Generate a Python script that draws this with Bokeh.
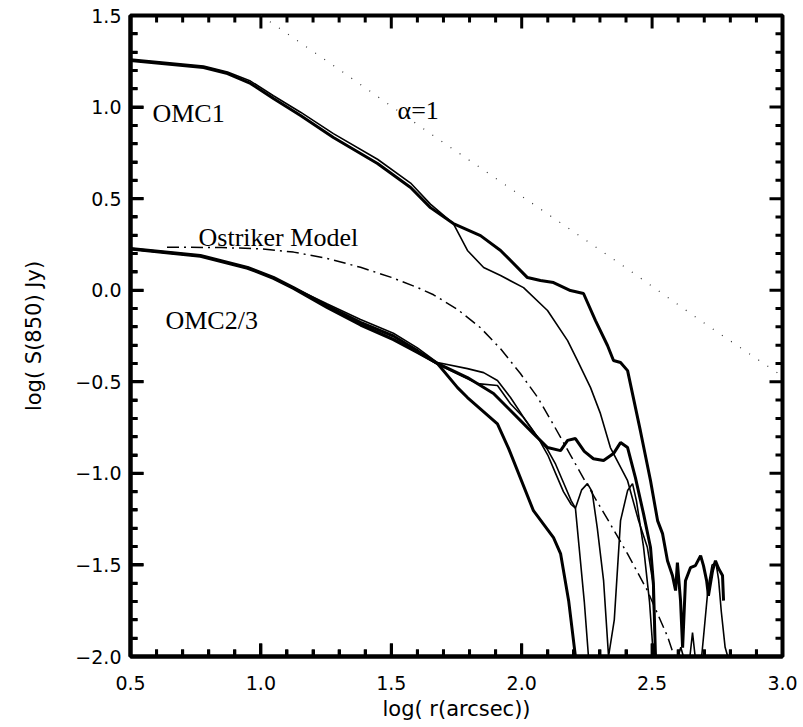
from bokeh.plotting import figure
from bokeh.models import FixedTicker, Label
from bokeh.embed import file_html
from bokeh.resources import INLINE

# ---------------- data ----------------
x_ticks = [0.5, 1.0, 1.5, 2.0, 2.5, 3.0]
x_tick_labels = ["0.5", "1.0", "1.5", "2.0", "2.5", "3.0"]
y_ticks = [-2.0, -1.5, -1.0, -0.5, 0.0, 0.5, 1.0, 1.5]
y_tick_labels = ["\u22122.0", "\u22121.5", "\u22121.0", "\u22120.5", "0.0", "0.5", "1.0", "1.5"]
x_minor = [round(0.5 + 0.1 * i, 2) for i in range(26)]
y_minor = [round(-2.0 + 0.1 * i, 2) for i in range(36)]
x_lo, x_hi = 0.5, 3.0
y_lo, y_hi = -2.0, 1.5

# OMC1 heavy profile
omc1_thick_x = [0.50, 0.78, 0.872, 0.96, 1.048, 1.152, 1.278, 1.447, 1.574, 1.65, 1.738,
                1.842, 1.919, 2.022, 2.072, 2.122, 2.187, 2.237, 2.283, 2.329, 2.352, 2.379,
                2.406, 2.455, 2.494, 2.521, 2.540, 2.559, 2.578, 2.590, 2.597, 2.609, 2.617,
                2.628, 2.647, 2.666, 2.686, 2.697, 2.709, 2.716, 2.732, 2.743, 2.755, 2.770, 2.774]
omc1_thick_y = [1.254, 1.216, 1.183, 1.129, 1.047, 0.954, 0.834, 0.692, 0.561, 0.451, 0.364,
                0.298, 0.217, 0.069, 0.053, 0.042, -0.002, -0.018, -0.166, -0.302, -0.384, -0.395,
                -0.439, -0.767, -1.040, -1.258, -1.329, -1.477, -1.558, -1.640, -1.487, -1.695, -1.952,
                -1.586, -1.515, -1.504, -1.449, -1.504, -1.586, -1.668, -1.531, -1.477, -1.520, -1.558, -1.695]

# OMC1 light profile
omc1_thin_x = [0.50, 0.78, 0.872, 0.96, 1.048, 1.152, 1.278, 1.447, 1.574, 1.65, 1.738,
               1.792, 1.854, 1.919, 2.007, 2.099, 2.176, 2.214, 2.264, 2.302, 2.340, 2.406,
               2.448, 2.482, 2.502, 2.513, 2.60, 2.61, 2.62, 2.645, 2.655, 2.665, 2.69,
               2.70, 2.715, 2.73, 2.745, 2.755, 2.765, 2.78, 2.79]
omc1_thin_y = [1.262, 1.224, 1.192, 1.142, 1.062, 0.972, 0.855, 0.715, 0.585, 0.470, 0.364,
               0.217, 0.124, 0.080, 0.014, -0.111, -0.275, -0.384, -0.532, -0.674, -0.859, -1.040,
               -1.258, -1.405, -1.586, -2.0, -2.0, -1.95, -2.0, -2.0, -1.87, -2.0, -2.0,
               -1.85, -1.62, -1.50, -1.49, -1.58, -1.75, -1.95, -2.0]

# OMC2/3 profiles
omc23_a_x = [0.50, 0.768, 0.949, 1.048, 1.125, 1.255, 1.382, 1.508, 1.60, 1.677, 1.754,
             1.792, 1.907, 1.950, 2.045, 2.122, 2.149, 2.180, 2.206]
omc23_a_y = [0.225, 0.185, 0.120, 0.065, 0.010, -0.095, -0.190, -0.270, -0.340, -0.400, -0.532,
             -0.586, -0.730, -0.865, -1.204, -1.351, -1.438, -1.695, -2.0]

omc23_b_x = [0.50, 0.768, 0.949, 1.048, 1.125, 1.255, 1.382, 1.508, 1.60, 1.677, 1.792,
             1.892, 1.957, 2.045, 2.099, 2.149, 2.176, 2.206, 2.240, 2.275, 2.314, 2.352,
             2.379, 2.406, 2.436, 2.467, 2.494, 2.505, 2.513]
omc23_b_y = [0.228, 0.190, 0.124, 0.070, 0.014, -0.085, -0.175, -0.250, -0.330, -0.400, -0.477,
             -0.564, -0.657, -0.783, -0.859, -0.876, -0.820, -0.810, -0.880, -0.920, -0.930, -0.892,
             -0.832, -0.859, -1.023, -1.220, -1.405, -1.600, -2.0]

omc23_c_x = [0.50, 0.768, 0.949, 1.048, 1.125, 1.255, 1.382, 1.508, 1.60, 1.677, 1.792,
             1.854, 1.907, 1.957, 2.010, 2.060, 2.099, 2.130, 2.160, 2.190, 2.206, 2.220,
             2.240, 2.256]
omc23_c_y = [0.226, 0.188, 0.123, 0.069, 0.013, -0.075, -0.160, -0.235, -0.315, -0.395, -0.428,
             -0.450, -0.493, -0.586, -0.700, -0.800, -0.870, -0.950, -1.050, -1.150, -1.190, -1.400,
             -1.700, -2.0]

omc23_d_x = [0.50, 0.768, 0.949, 1.048, 1.125, 1.255, 1.382, 1.508, 1.60, 1.677, 1.830,
             1.907, 1.957, 2.007, 2.060, 2.100, 2.130, 2.160, 2.190, 2.206, 2.230, 2.252,
             2.270, 2.290, 2.314, 2.333, 2.355, 2.379, 2.406, 2.425, 2.440, 2.467, 2.490, 2.505]
omc23_d_y = [0.224, 0.186, 0.121, 0.067, 0.011, -0.090, -0.185, -0.265, -0.340, -0.405, -0.510,
             -0.520, -0.620, -0.695, -0.800, -0.900, -1.000, -1.100, -1.170, -1.190, -1.090, -1.056,
             -1.100, -1.300, -1.586, -2.0, -1.800, -1.258, -1.094, -1.056, -1.150, -1.400, -1.700, -2.0]

# Ostriker model (dash-dot)
ostriker_x = [0.64, 0.85, 1.0, 1.125, 1.25, 1.382, 1.50, 1.60, 1.662, 1.754, 1.842, 1.919,
              1.995, 2.061, 2.122, 2.187, 2.25, 2.329, 2.406, 2.482, 2.559, 2.585]
ostriker_y = [0.235, 0.233, 0.226, 0.208, 0.175, 0.125, 0.070, 0.015, -0.025, -0.105, -0.205, -0.320,
              -0.455, -0.585, -0.735, -0.900, -1.060, -1.250, -1.440, -1.640, -1.890, -2.0]

# alpha = 1 power law (dotted)
alpha_x = [1.0, 1.305, 1.65, 1.969, 2.398, 2.697, 3.0]
alpha_y = [1.5, 1.2, 0.855, 0.544, 0.124, -0.177, -0.47]

# annotations
ann_text = ["OMC1", "OMC2/3", "Ostriker Model", "\u03b1=1"]
ann_x = [0.584, 0.634, 0.761, 1.524]
ann_y = [0.965, -0.166, 0.288, 0.981]

# ---------------- figure ----------------
W, H = 803, 727
BL, BR, BT, BB = 130, 21, 15, 71
p = figure(width=W, height=H, x_range=(x_lo, x_hi), y_range=(y_lo, y_hi),
           output_backend="svg", toolbar_location=None,
           min_border_left=BL, min_border_right=BR, min_border_top=BT, min_border_bottom=BB)
p.grid.visible = False
p.outline_line_color = "black"
p.outline_line_width = 4

p.xaxis.ticker = FixedTicker(ticks=x_ticks, minor_ticks=x_minor)
p.yaxis.ticker = FixedTicker(ticks=y_ticks, minor_ticks=y_minor)
for ax in (p.xaxis, p.yaxis):
    ax.axis_line_width = 4
    ax.axis_line_color = "black"
    ax.major_tick_in = 13
    ax.major_tick_out = 0
    ax.minor_tick_in = 7
    ax.minor_tick_out = 0
    ax.major_tick_line_width = 3
    ax.minor_tick_line_width = 3
    ax.major_tick_line_color = "black"
    ax.minor_tick_line_color = "black"
    ax.major_label_text_font = "DejaVu Sans"
    ax.major_label_text_font_size = "19px"
    ax.major_label_text_color = "black"
    ax.axis_label_text_font = "DejaVu Sans"
    ax.axis_label_text_font_size = "21px"
    ax.axis_label_text_font_style = "normal"
    ax.axis_label_text_color = "black"

p.xaxis.major_label_overrides = {t: s for t, s in zip(x_ticks, x_tick_labels)}
p.xaxis.major_label_standoff = 19
p.xaxis.axis_label = "log( r(arcsec))"
p.xaxis.axis_label_standoff = 4

p.yaxis.major_label_overrides = {t: s for t, s in zip(y_ticks, y_tick_labels)}
p.yaxis.major_label_standoff = 9
p.yaxis.axis_label = "log( S(850) Jy)"
p.yaxis.axis_label_standoff = 26

# dashed / dotted model lines first
p.line(ostriker_x, ostriker_y, line_color="black", line_width=1.5, line_dash="12 5 2 5")
p.line(alpha_x, alpha_y, line_color="#333333", line_width=1.2, line_dash="1 10")

# measured profiles
p.line(omc1_thick_x, omc1_thick_y, line_color="black", line_width=3)
p.line(omc1_thin_x, omc1_thin_y, line_color="black", line_width=1.6)
p.line(omc23_a_x, omc23_a_y, line_color="black", line_width=3)
p.line(omc23_b_x, omc23_b_y, line_color="black", line_width=3)
p.line(omc23_c_x, omc23_c_y, line_color="black", line_width=1.6)
p.line(omc23_d_x, omc23_d_y, line_color="black", line_width=1.6)

# IDL-style inward tick marks on all four sides, as segments whose length is
# converted from pixels into data units of the frame
fw, fh = W - BL - BR, H - BT - BB
dx_major, dx_minor = 13 * (x_hi - x_lo) / fw, 7 * (x_hi - x_lo) / fw
dy_major, dy_minor = 13 * (y_hi - y_lo) / fh, 7 * (y_hi - y_lo) / fh
tx0, ty0, tx1, ty1 = [], [], [], []
for t in x_minor:
    d = dy_major if t in x_ticks else dy_minor
    tx0 += [t, t]; tx1 += [t, t]
    ty0 += [y_lo, y_hi]; ty1 += [y_lo + d, y_hi - d]
for t in y_minor:
    d = dx_major if t in y_ticks else dx_minor
    ty0 += [t, t]; ty1 += [t, t]
    tx0 += [x_lo, x_hi]; tx1 += [x_lo + d, x_hi - d]
p.segment(x0=tx0, y0=ty0, x1=tx1, y1=ty1, line_color="black", line_width=3)

# text annotations
for t, x, y in zip(ann_text, ann_x, ann_y):
    p.add_layout(Label(x=x, y=y, text=t, text_font="Liberation Serif",
                       text_font_size="26px", text_color="black",
                       text_align="left", text_baseline="alphabetic"))

open("out.html", "w").write(file_html(p, INLINE))
